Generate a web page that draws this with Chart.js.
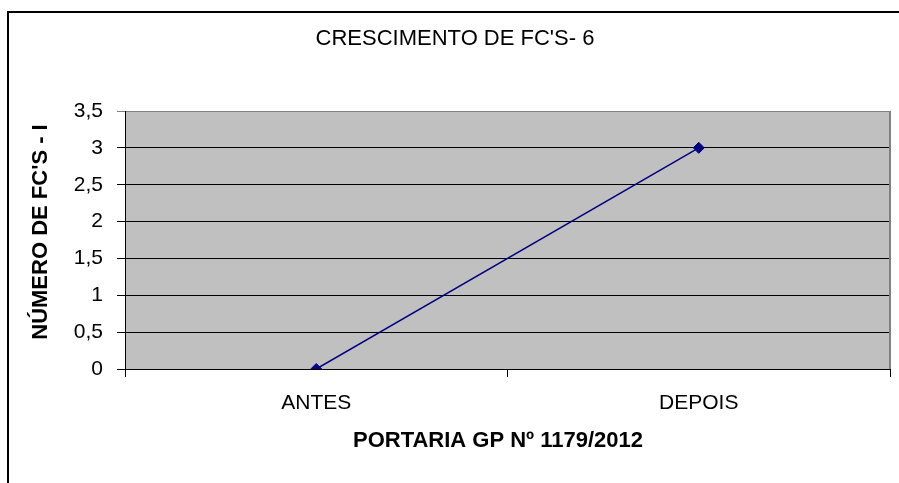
<!DOCTYPE html>
<html>
<head>
<meta charset="utf-8">
<script src="https://cdn.jsdelivr.net/npm/chart.js@4"></script>
<style>
    html, body { margin: 0; padding: 0; background: #fff; }
    #wrap { width: 899px; height: 483px; }
</style>
</head>
<body>
<div id="wrap"><canvas id="chart" width="899" height="483"></canvas></div>
<script>
// DATA
const categories = ["ANTES", "DEPOIS"];
const fcValues = [0, 3];
const yTicks = [0, 0.5, 1, 1.5, 2, 2.5, 3, 3.5];

const chartTitle = "CRESCIMENTO DE FC'S- 6";
const yTitle = "NÚMERO DE FC'S - I";
const xTitle = "PORTARIA GP Nº 1179/2012";

const FONT = "'Liberation Sans', Arial, sans-serif";

// frame, plot background and axis titles
const framePlugin = {
    id: "frame",
    beforeDraw(chart) {
        const ctx = chart.ctx;
        const a = chart.chartArea;
        ctx.save();
        ctx.fillStyle = "#fff";
        ctx.fillRect(0, 0, chart.width, chart.height);
        ctx.fillStyle = "#000";
        ctx.fillRect(7, 11, 2, chart.height);
        ctx.fillRect(7, 11, chart.width, 2);
        ctx.fillStyle = "#c0c0c0";
        ctx.fillRect(a.left, a.top, a.right - a.left, a.bottom - a.top);
        ctx.restore();
    },
    afterDraw(chart) {
        const ctx = chart.ctx;
        const a = chart.chartArea;
        ctx.save();
        ctx.fillStyle = "#808080";
        ctx.fillRect(a.right - 1, a.top, 2, a.bottom - a.top);

        ctx.fillStyle = "#000";
        ctx.font = "bold 22px " + FONT;
        ctx.textAlign = "center";
        ctx.textBaseline = "middle";
        ctx.fillText(xTitle, 498, 441);

        ctx.translate(41, 232);
        ctx.rotate(-Math.PI / 2);
        ctx.fillText(yTitle, 0, 0);
        ctx.restore();
    }
};

new Chart(document.getElementById("chart"), {
    type: "line",
    data: {
        labels: categories,
        datasets: [{
            data: fcValues,
            borderColor: "#000080",
            borderWidth: 1.5,
            backgroundColor: "#000080",
            pointStyle: "rectRot",
            pointRadius: 5.5,
            pointBorderWidth: 1,
            pointBorderColor: "#000080",
            tension: 0
        }]
    },
    options: {
        responsive: false,
        animation: false,
        layout: { padding: { left: 20, right: 9, top: 0, bottom: 0 } },
        plugins: {
            legend: { display: false },
            tooltip: { enabled: false },
            title: {
                display: true,
                text: chartTitle,
                color: "#000",
                font: { family: FONT, size: 22, weight: "normal", lineHeight: 1.2 },
                padding: { top: 26, bottom: 58.6 }
            }
        },
        scales: {
            x: {
                offset: true,
                afterFit: s => { s.height = 114; },
                grid: {
                    offset: true,
                    drawOnChartArea: false,
                    tickLength: 8,
                    color: "#000"
                },
                border: { color: "#000", width: 1 },
                ticks: {
                    color: "#000",
                    padding: 14,
                    font: { family: FONT, size: 21 }
                }
            },
            y: {
                min: 0,
                max: 3.5,
                afterFit: s => { s.width = 105; },
                afterBuildTicks: s => { s.ticks = yTicks.map(v => ({ value: v })); },
                grid: {
                    tickLength: 8,
                    color: c => (c.tick && c.tick.value === 3.5 ? "#808080" : "#000")
                },
                border: { color: "#000", width: 1 },
                ticks: {
                    color: "#000",
                    padding: 14,
                    font: { family: FONT, size: 21 },
                    callback: v => String(v).replace(".", ",")
                }
            }
        }
    },
    plugins: [framePlugin]
});
</script>
</body>
</html>
